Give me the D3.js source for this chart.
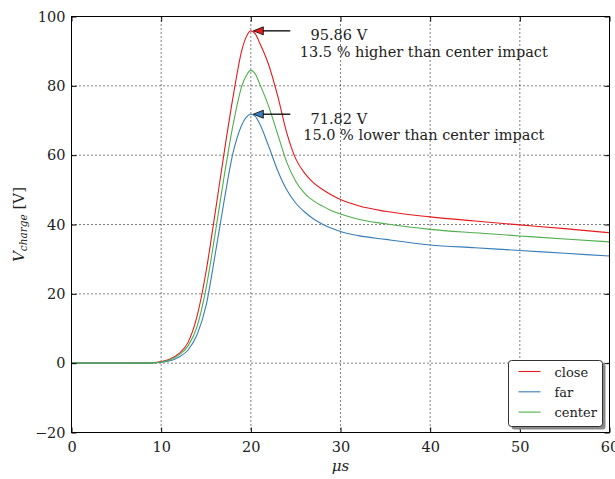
<!DOCTYPE html>
<html>
<head>
<meta charset="utf-8">
<script src="https://cdn.jsdelivr.net/npm/d3@7/dist/d3.min.js"></script>
<style>
  html, body { margin: 0; padding: 0; background: #fff; }
  svg { display: block; }
  text { font-family: "DejaVu Serif", serif; fill: #222; }
</style>
</head>
<body>
<svg id="chart" width="615" height="479"></svg>
<script>
// ---- data ----
const time = [0, 5, 8, 9, 10, 11, 12, 13, 14, 15, 16, 17, 18, 19, 19.5, 20, 20.5, 21, 22, 23, 24, 25, 26, 27, 28, 29, 30, 32, 35, 40, 45, 50, 55, 60];
const close = [0, 0, 0, 0.1, 0.45, 1.2, 2.8, 6.0, 13.5, 26.3, 43, 60.3, 76.5, 90.3, 94.2, 95.86, 95.0, 92.3, 86, 77, 66.5, 59, 54.8, 52, 50.1, 48.5, 47.2, 45.4, 43.8, 42.2, 41, 39.9, 38.8, 37.6];
const far = [0, 0, 0, 0.05, 0.25, 0.7, 1.8, 3.8, 8.2, 16.5, 31, 46.5, 60.5, 68.8, 71, 71.82, 71.2, 69, 62.5, 55.5, 50, 46.2, 43.6, 41.6, 40.1, 38.9, 38, 36.8, 35.7, 34.1, 33.3, 32.5, 31.7, 30.9];
const center = [0, 0, 0, 0.08, 0.35, 1.0, 2.4, 5.0, 10.5, 21.5, 37, 53.5, 68.5, 80, 83, 84.47, 83.4, 80.5, 74, 66, 58, 52.5, 49, 46.8, 45.3, 44, 43, 41.5, 40.2, 38.6, 37.6, 36.7, 35.8, 35];
const seriesNames = ["close", "far", "center"];
const seriesColors = ["#e41a1c", "#377eb8", "#4daf4a"];
const xTicks = [0, 10, 20, 30, 40, 50, 60];
const yTicks = [-20, 0, 20, 40, 60, 80, 100];
const annotations = [
  { x: 20, y: 95.86, line1: "95.86 V", line2: "13.5 % higher than center impact", color: "#e41a1c" },
  { x: 20, y: 71.82, line1: "71.82 V", line2: "15.0 % lower than center impact", color: "#377eb8" }
];

// ---- layout ----
const svg = d3.select("#chart");
const L = 71.5, R = 609.5, T = 16.5, B = 432.5;
const x = d3.scaleLinear().domain([0, 60]).range([L, R]);
const y = d3.scaleLinear().domain([-20, 100]).range([B, T]);
const fmt = d => (d < 0 ? "\u2212" + Math.abs(d) : String(d));

// grid
const grid = svg.append("g");
grid.selectAll("line.gx").data(xTicks).join("line")
  .attr("x1", d => x(d)).attr("x2", d => x(d)).attr("y1", T).attr("y2", B)
  .attr("stroke", "#000").attr("stroke-width", 1).attr("stroke-dasharray", "1,3");
grid.selectAll("line.gy").data(yTicks).join("line")
  .attr("x1", L).attr("x2", R).attr("y1", d => y(d)).attr("y2", d => y(d))
  .attr("stroke", "#000").attr("stroke-width", 1).attr("stroke-dasharray", "1,3");

// series
const seriesData = [close, far, center];
const line = d3.line().x((d, i) => x(time[i])).y(d => y(d)).curve(d3.curveMonotoneX);
const clipId = "plotclip";
svg.append("clipPath").attr("id", clipId).append("rect")
  .attr("x", L).attr("y", T).attr("width", R - L).attr("height", B - T);
svg.append("g").attr("clip-path", `url(#${clipId})`)
  .selectAll("path").data(seriesData).join("path")
  .attr("d", d => line(d)).attr("fill", "none")
  .attr("stroke", (d, i) => seriesColors[i]).attr("stroke-width", 1.1);

// axes (ticks inside, on all four sides)
const axB = d3.axisBottom(x).tickValues(xTicks).tickSizeInner(-5).tickSizeOuter(0).tickPadding(9).tickFormat(fmt);
const axT = d3.axisTop(x).tickValues(xTicks).tickSizeInner(-5).tickSizeOuter(0).tickFormat("");
const axL = d3.axisLeft(y).tickValues(yTicks).tickSizeInner(-5).tickSizeOuter(0).tickPadding(6).tickFormat(fmt);
const axR = d3.axisRight(y).tickValues(yTicks).tickSizeInner(-5).tickSizeOuter(0).tickFormat("");
function styleAxis(g) {
  g.select(".domain").remove();
  g.selectAll(".tick line").attr("stroke", "#000").attr("stroke-width", 1);
  g.selectAll(".tick text").attr("font-family", "DejaVu Serif, serif").attr("font-size", 14.5).attr("fill", "#333");
}
svg.append("g").attr("transform", `translate(0,${B})`).call(axB).call(styleAxis);
svg.append("g").attr("transform", `translate(0,${T})`).call(axT).call(styleAxis);
svg.append("g").attr("transform", `translate(${L},0)`).call(axL).call(styleAxis);
svg.append("g").attr("transform", `translate(${R},0)`).call(axR).call(styleAxis);

// frame
svg.append("rect").attr("x", L).attr("y", T).attr("width", R - L).attr("height", B - T)
  .attr("fill", "none").attr("stroke", "#000").attr("stroke-width", 1);

// axis labels
svg.append("text").attr("x", (L + R) / 2).attr("y", 471).attr("text-anchor", "middle")
  .attr("font-size", 15).attr("font-style", "italic").text("\u03bcs");
const yl = svg.append("text").attr("transform", `translate(24,${(T + B) / 2}) rotate(-90)`)
  .attr("text-anchor", "middle").attr("font-size", 15);
yl.append("tspan").attr("font-style", "italic").text("V");
yl.append("tspan").attr("font-style", "italic").attr("font-size", 10.5).attr("dy", 3).text("charge");
yl.append("tspan").attr("dy", -3).text(" [V]");

// annotations
const ann = svg.append("g");
annotations.forEach(a => {
  const tipX = x(a.x) + 2.5, tipY = y(a.y);
  const tailX = tipX + 37;
  ann.append("line").attr("x1", tipX + 9).attr("x2", tailX).attr("y1", tipY).attr("y2", tipY)
    .attr("stroke", "#000").attr("stroke-width", 1.3);
  ann.append("path")
    .attr("d", `M${tipX},${tipY} L${tipX + 10},${tipY - 4} L${tipX + 10},${tipY + 4} Z`)
    .attr("fill", a.color).attr("stroke", "#000").attr("stroke-width", 0.8);
  ann.append("text").attr("x", x(a.x) + 88).attr("y", tipY + 9.5).attr("text-anchor", "middle")
    .attr("font-size", 14.5).text(a.line1);
  ann.append("text").attr("x", x(a.x) + 173).attr("y", tipY + 26).attr("text-anchor", "middle")
    .attr("font-size", 14.5).text(a.line2);
});

// legend
const lg = svg.append("g");
const lx = 508.5, ly = 360.5, lw = 94, lh = 66;
lg.append("rect").attr("x", lx + 3).attr("y", ly + 3).attr("width", lw).attr("height", lh).attr("rx", 3)
  .attr("fill", "#888");
lg.append("rect").attr("x", lx).attr("y", ly).attr("width", lw).attr("height", lh).attr("rx", 3)
  .attr("fill", "#fff").attr("stroke", "#333").attr("stroke-width", 1);
seriesNames.forEach((n, i) => {
  const yy = ly + 11 + i * 20.3;
  lg.append("line").attr("x1", lx + 10).attr("x2", lx + 32).attr("y1", yy).attr("y2", yy)
    .attr("stroke", seriesColors[i]).attr("stroke-width", 1.1);
  lg.append("text").attr("x", lx + 46).attr("y", yy + 5).attr("font-size", 13).text(n);
});
</script>
</body>
</html>
